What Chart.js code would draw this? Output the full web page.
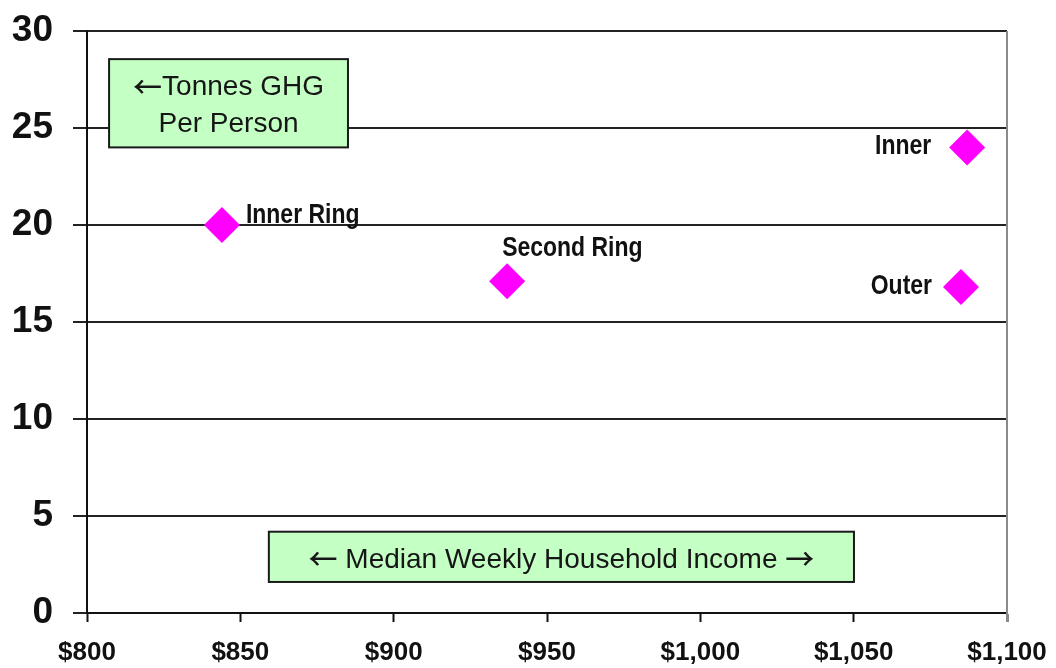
<!DOCTYPE html>
<html>
<head>
<meta charset="utf-8">
<script src="https://cdn.jsdelivr.net/npm/chart.js@4/dist/chart.umd.min.js"></script>
<style>
  html, body { margin: 0; padding: 0; background: #ffffff; }
  #wrap { width: 1056px; height: 668px; }
</style>
</head>
<body>
<div id="wrap"><canvas id="c" width="1056" height="668"></canvas></div>
<script>
// Suburb rings: median weekly household income vs tonnes GHG per person
const ringNames = ['Inner Ring', 'Second Ring', 'Inner', 'Outer'];
const incomeValues = [844, 937, 1087, 1085];
const ghgValues = [20.0, 17.1, 24.0, 16.8];

const xTickMin = 800, xTickMax = 1100, xTickStep = 50;
const yTickMin = 0, yTickMax = 30, yTickStep = 5;

// caption lines, split into [text, kind] runs so the arrows get their own face
const yCaption = [
  [['\u2190', 'arrow'], ['Tonnes GHG', 'text']],
  [['Per Person', 'text']]
];
const xCaption = [
  [['\u2190', 'arrow'], [' Median Weekly Household Income ', 'text'], ['\u2192', 'arrow']]
];

// label placement relative to each marker: [dx, dy, align]
const labelPlacement = [
  [24, -2, 'left'],
  [-5, -25, 'left'],
  [-36, 7, 'right'],
  [-29, 7, 'right']
];

const points = incomeValues.map((v, i) => ({ x: v, y: ghgValues[i] }));

const FONT = '"Liberation Sans", Arial, Helvetica, sans-serif';
const runFonts = {
  text: '28px ' + FONT,
  arrow: '500 29px "Noto Sans CJK SC", "DejaVu Sans", sans-serif'
};

const decorPlugin = {
  id: 'decor',
  afterDraw(chart) {
    const ctx = chart.ctx;
    const xs = chart.scales.x, ys = chart.scales.y;
    const area = chart.chartArea;

    // grey right-hand frame line
    ctx.save();
    ctx.strokeStyle = '#8a8a8a';
    ctx.lineWidth = 2;
    ctx.beginPath();
    ctx.moveTo(area.right, area.top);
    ctx.lineTo(area.right, area.bottom + 9);
    ctx.stroke();
    ctx.restore();

    // caption boxes, anchored in axis units
    function captionBox(x0, x1, y0, y1, lines, lineGap) {
      const l = xs.getPixelForValue(x0), r = xs.getPixelForValue(x1);
      const t = ys.getPixelForValue(y0), b = ys.getPixelForValue(y1);
      ctx.save();
      ctx.fillStyle = '#c4ffc4';
      ctx.fillRect(l, t, r - l, b - t);
      ctx.strokeStyle = '#1a1a1a';
      ctx.lineWidth = 2;
      ctx.strokeRect(l, t, r - l, b - t);
      ctx.fillStyle = '#161616';
      ctx.textAlign = 'left';
      ctx.textBaseline = 'middle';
      const cx = (l + r) / 2, cy = (t + b) / 2;
      const startY = cy - (lines.length - 1) * lineGap / 2;
      lines.forEach((runs, i) => {
        let total = 0;
        runs.forEach(([s, k]) => { ctx.font = runFonts[k]; total += ctx.measureText(s).width; });
        let x = cx - total / 2;
        const y = startY + i * lineGap + 3;
        runs.forEach(([s, k]) => {
          ctx.font = runFonts[k];
          ctx.fillText(s, x, k === 'arrow' ? y - 1 : y);
          x += ctx.measureText(s).width;
        });
      });
      ctx.restore();
    }
    captionBox(807.2, 885.1, 28.55, 24.0, yCaption, 37);
    captionBox(859.3, 1050.1, 4.19, 1.6, xCaption, 0);

    // point labels (bold, narrow)
    const meta = chart.getDatasetMeta(0);
    ctx.save();
    ctx.fillStyle = '#111111';
    ctx.font = 'bold 28px ' + FONT;
    ctx.textBaseline = 'alphabetic';
    meta.data.forEach((el, i) => {
      const p = labelPlacement[i];
      ctx.save();
      ctx.translate(el.x + p[0], el.y + p[1]);
      ctx.scale(0.82, 1);
      ctx.textAlign = p[2];
      ctx.fillText(ringNames[i], 0, 0);
      ctx.restore();
    });
    ctx.restore();
  }
};

new Chart(document.getElementById('c'), {
  type: 'scatter',
  data: {
    datasets: [{
      data: points,
      pointStyle: 'rectRot',
      pointRadius: 18,
      pointHoverRadius: 18,
      backgroundColor: '#ff00ff',
      borderWidth: 0
    }]
  },
  options: {
    responsive: false,
    animation: false,
    events: [],
    layout: { autoPadding: false, padding: { top: 31, right: 49, left: 0, bottom: 0 } },
    plugins: { legend: { display: false }, tooltip: { enabled: false } },
    scales: {
      x: {
        type: 'linear',
        min: xTickMin,
        max: xTickMax,
        afterFit(scale) {
          scale.height = 55;
          scale.paddingLeft = 0;
          scale.paddingRight = 0;
        },
        ticks: {
          stepSize: xTickStep,
          color: '#111111',
          font: { family: FONT, size: 26, weight: 'bold' },
          padding: 15,
          maxRotation: 0,
          callback: v => '$' + Number(v).toLocaleString('en-US')
        },
        grid: {
          drawOnChartArea: false,
          drawTicks: true,
          tickLength: 9,
          tickColor: '#111111',
          tickWidth: 2
        },
        border: { display: true, color: '#111111', width: 2 }
      },
      y: {
        type: 'linear',
        min: yTickMin,
        max: yTickMax,
        afterFit(scale) {
          scale.width = 87;
          scale.paddingTop = 0;
          scale.paddingBottom = 0;
        },
        ticks: {
          stepSize: yTickStep,
          color: '#111111',
          font: { family: FONT, size: 37, weight: 'bold' },
          padding: 20
        },
        grid: {
          color: '#222222',
          lineWidth: 2,
          drawTicks: true,
          tickLength: 14,
          tickColor: '#222222'
        },
        border: { display: true, color: '#111111', width: 2 }
      }
    }
  },
  plugins: [decorPlugin]
});
</script>
</body>
</html>
